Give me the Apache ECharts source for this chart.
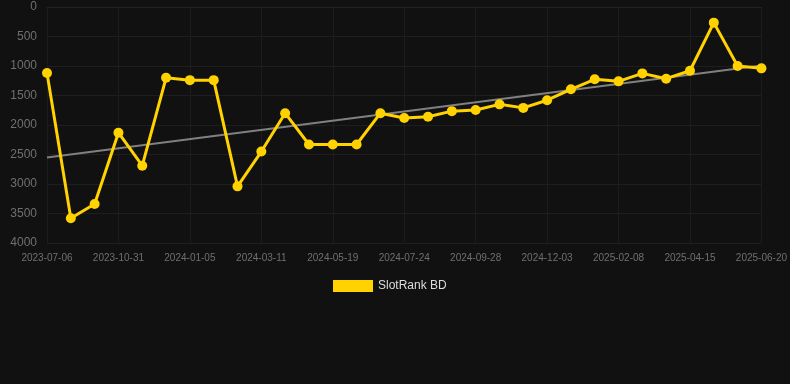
<!DOCTYPE html>
<html>
<head>
<meta charset="utf-8">
<script src="https://cdn.jsdelivr.net/npm/echarts@6/dist/echarts.min.js"></script>
<style>
html,body{margin:0;padding:0;background:#111111;}
#c{width:790px;height:384px;}
</style>
</head>
<body>
<div id="c"></div>
<script>
var categories = ['2023-07-06','2023-08-20','2023-09-25','2023-10-31','2023-11-22','2023-12-14','2024-01-05','2024-01-27','2024-02-18','2024-03-11','2024-04-03','2024-04-26','2024-05-19','2024-06-10','2024-07-02','2024-07-24','2024-08-15','2024-09-06','2024-09-28','2024-10-20','2024-11-11','2024-12-03','2024-12-25','2025-01-17','2025-02-08','2025-03-02','2025-03-24','2025-04-15','2025-05-07','2025-05-29','2025-06-20'];
var rankValues = [1120,3580,3340,2130,2690,1200,1240,1240,3040,2450,1800,2330,2330,2330,1800,1880,1860,1765,1745,1650,1710,1580,1395,1225,1260,1125,1215,1080,265,1000,1040];
var trendStart = 2550;
var trendEnd = 990;
var yTicks = [0,500,1000,1500,2000,2500,3000,3500,4000];

var trendData = categories.map(function(c,i){
  if(i===0) return trendStart;
  if(i===categories.length-1) return trendEnd;
  return null;
});

var chart = echarts.init(document.getElementById('c'));
chart.setOption({
  backgroundColor:'#111111',
  animation:false,
  grid:{left:47,right:28,top:7,bottom:141,containLabel:false},
  legend:{
    data:['SlotRank BD'],
    bottom:87,left:328,
    icon:'rect',itemWidth:40,itemHeight:12,
    textStyle:{color:'#dddddd',fontSize:12,fontFamily:'Arial, Liberation Sans, sans-serif'}
  },
  xAxis:{
    type:'category',
    data:categories,
    boundaryGap:false,
    axisLine:{show:true,lineStyle:{color:'#222222'}},
    axisTick:{show:false},
    axisLabel:{interval:2,color:'#707070',fontSize:10,margin:10,fontFamily:'Arial, Liberation Sans, sans-serif'},
    splitLine:{show:true,interval:2,lineStyle:{color:'#1c1c1c'}}
  },
  yAxis:{
    type:'value',
    inverse:true,
    min:yTicks[0],max:yTicks[yTicks.length-1],interval:500,
    axisLine:{show:false},
    axisTick:{show:false},
    axisLabel:{color:'#707070',fontSize:12,margin:10,fontFamily:'Arial, Liberation Sans, sans-serif',
      formatter:function(v){return String(v);}},
    splitLine:{show:true,lineStyle:{color:'#1e1e1e'}}
  },
  series:[
    {
      name:'Trend',
      type:'line',
      data:trendData,
      connectNulls:true,
      symbol:'none',
      lineStyle:{color:'#808080',width:2},
      z:1,
      silent:true
    },
    {
      name:'SlotRank BD',
      type:'line',
      data:rankValues,
      symbol:'circle',
      symbolSize:10,
      itemStyle:{color:'#FFD200'},
      lineStyle:{color:'#FFD200',width:3},
      z:2
    }
  ]
});
</script>
</body>
</html>
